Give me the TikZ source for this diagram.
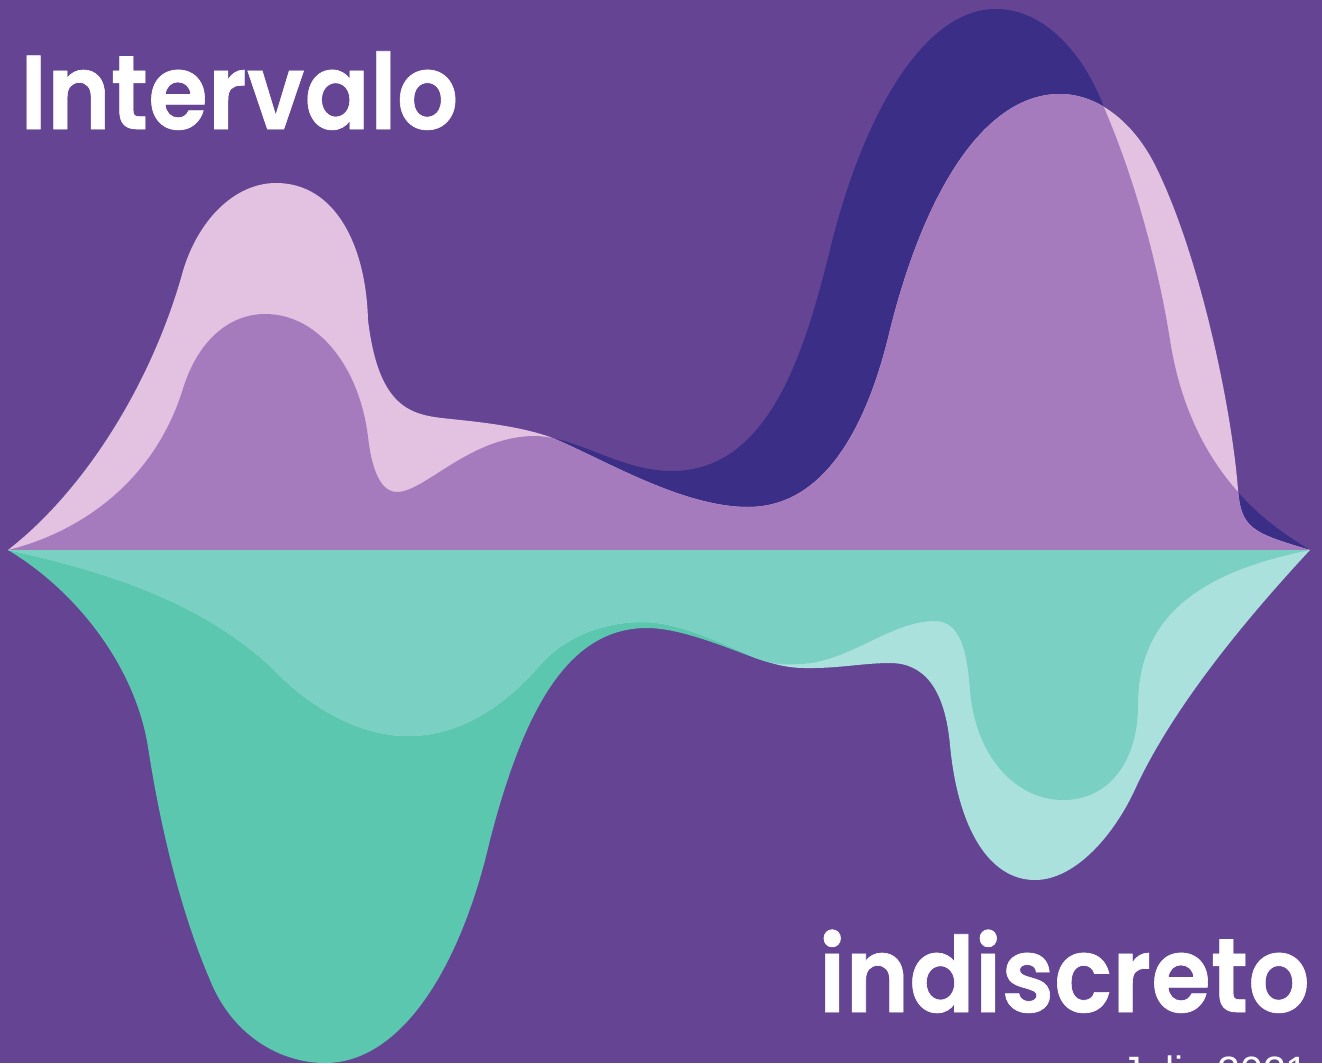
\documentclass[tikz,border=0pt]{standalone}
\usepackage{graphicx}
\usepackage{fontspec}
\setmainfont[FakeBold=0.6]{Poppins SemiBold}
\newfontfamily\datefont{Liberation Sans}
\definecolor{bgc}{HTML}{644493}
\definecolor{darkc}{HTML}{3A2E87}
\definecolor{pinkc}{HTML}{E2C1E1}
\definecolor{midc}{HTML}{A57BBE}
\definecolor{greenc}{HTML}{5CC7AF}
\definecolor{tealc}{HTML}{7AD0C2}
\definecolor{lightc}{HTML}{AAE1DC}
\newcommand{\pathD}{(8,550) .. controls (70,535) and (150,490) .. (182,392)
 .. controls (197,340) and (230,314) .. (265,314)
 .. controls (320,314) and (360,370) .. (368,437)
 .. controls (373,480) and (385,492) .. (397,492)
 .. controls (425,492) and (470,436) .. (535,436)
 .. controls (578,437) and (620,471) .. (672,471)
 .. controls (770,471) and (805,350) .. (830,250)
 .. controls (860,125) and (920,9) .. (996,9)
 .. controls (1045,9) and (1085,55) .. (1105,110)
 .. controls (1135,180) and (1158,265) .. (1170,340)
 .. controls (1180,405) and (1205,455) .. (1238,492)
 .. controls (1260,518) and (1290,538) .. (1310,550) -- cycle}
\newcommand{\pathP}{(8,550) .. controls (85,490) and (150,385) .. (181,278)
 .. controls (196,220) and (235,183) .. (276,183)
 .. controls (335,183) and (366,245) .. (368,320)
 .. controls (380,420) and (420,415) .. (460,420)
 .. controls (490,423) and (525,428) .. (550,437)
 .. controls (600,457) and (680,507) .. (748,507)
 .. controls (830,507) and (870,415) .. (890,330)
 .. controls (925,190) and (985,94) .. (1060,94)
 .. controls (1100,94) and (1135,125) .. (1155,165)
 .. controls (1200,255) and (1232,410) .. (1238,490)
 .. controls (1241,528) and (1252,533) .. (1310,550) -- cycle}
\newcommand{\pathL}{(8,550) .. controls (100,570) and (200,600) .. (272,668)
 .. controls (310,708) and (360,736) .. (408,736)
 .. controls (465,736) and (510,700) .. (540,665)
 .. controls (570,632) and (610,622) .. (643,622)
 .. controls (680,622) and (725,645) .. (755,657.5)
 .. controls (785,669) and (800,668) .. (813,668)
 .. controls (840,668) and (865,663) .. (890,663)
 .. controls (925,663) and (945,690) .. (950,745)
 .. controls (958,830) and (990,880) .. (1035,880)
 .. controls (1075,880) and (1115,835) .. (1137,785)
 .. controls (1175,705) and (1245,620) .. (1310,550) -- cycle}
\newcommand{\pathM}{(8,550) .. controls (75,590) and (135,665) .. (148,747)
 .. controls (160,825) and (180,910) .. (210,980)
 .. controls (232,1035) and (280,1063) .. (325,1063)
 .. controls (400,1063) and (460,970) .. (490,840)
 .. controls (525,705) and (570,628) .. (647,628)
 .. controls (680,628) and (725,647) .. (755,658)
 .. controls (775,665) and (785,665) .. (800,664)
 .. controls (850,662) and (890,621) .. (935,621)
 .. controls (960,621) and (967,650) .. (970,690)
 .. controls (975,755) and (1015,800) .. (1063,800)
 .. controls (1110,800) and (1138,760) .. (1138,705)
 .. controls (1138,610) and (1210,570) .. (1310,550) -- cycle}
\tikzset{title/.style={text=white,inner sep=0pt,font=\fontsize{100}{100}\selectfont}}
\begin{document}
\begin{tikzpicture}[x=1pt,y=-1pt]
\useasboundingbox (0,0) rectangle (1322,1063);
\clip (0,0) rectangle (1322,1063);
\fill[bgc] (0,0) rectangle (1322,1063);
\fill[darkc] \pathD;
\fill[pinkc] \pathP;
\begin{scope}
\clip \pathD;
\fill[midc] \pathP;
\end{scope}
\fill[greenc] \pathM;
\fill[lightc] \pathL;
\begin{scope}
\clip \pathM;
\fill[tealc] \pathL;
\end{scope}
\node[title,anchor=base west] (t1) at (20,129) {\scalebox{0.965}[1.05]{Intervalo}};
\node[title,anchor=base east] (t2) at (1310,1012) {\scalebox{0.965}[1.05]{indiscreto}};
\node[text=white,inner sep=0pt,anchor=base east,font=\datefont\fontsize{41}{41}\selectfont] (t3) at (1309,1085) {Julio 2021};
\end{tikzpicture}
\end{document}
